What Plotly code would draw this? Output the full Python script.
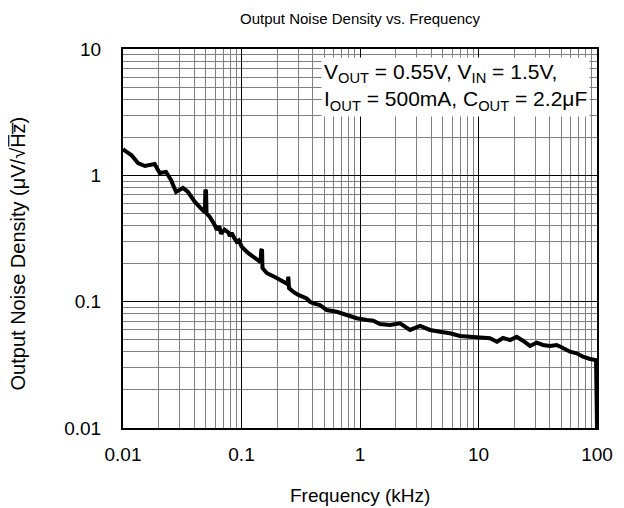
import plotly.graph_objects as go

# Frequency (kHz) and output noise density (uV/rtHz)
freq_khz = [0.01, 0.0102, 0.01175, 0.01339, 0.01533, 0.01851, 0.0204, 0.02307, 0.02541,
            0.02801, 0.03208, 0.03536, 0.04027, 0.0455, 0.0490, 0.0496, 0.0502, 0.0507,
            0.0539, 0.0594, 0.0620, 0.0650, 0.0671, 0.0720, 0.0769, 0.0800, 0.0826, 0.0870,
            0.0911, 0.0950, 0.1004, 0.1135, 0.1387,
            0.1446, 0.1469, 0.149, 0.1504, 0.1632, 0.1982, 0.2328, 0.2444, 0.2483,
            0.2517, 0.2721, 0.3015, 0.355, 0.378, 0.404, 0.445, 0.459, 0.524, 0.635,
            0.772, 0.938, 1.139, 1.295, 1.475, 1.792, 2.176, 2.642, 3.21, 3.90, 4.73,
            5.74, 6.98, 8.47, 10.3, 12.5, 14.3, 16.1, 18.5, 21.0, 23.7, 27.2, 31.0,
            35.0, 40.1, 45.7, 51.6, 59.2, 67.4, 76.2, 87.3, 98.2, 100.0]
noise = [1.616, 1.586, 1.449, 1.252, 1.186, 1.230, 1.043, 1.063, 0.918,
         0.738, 0.794, 0.738, 0.618, 0.551, 0.51, 0.77, 0.75, 0.50,
         0.470, 0.404, 0.370, 0.395, 0.345, 0.372, 0.356, 0.330, 0.350, 0.318,
         0.298, 0.305, 0.272, 0.243, 0.214,
         0.206, 0.256, 0.26, 0.1847, 0.1686, 0.1539, 0.1406, 0.138, 0.1576,
         0.1283, 0.120, 0.113, 0.106, 0.0999, 0.097, 0.094, 0.094, 0.0859, 0.0832,
         0.0784, 0.0739, 0.0716, 0.0706, 0.0665, 0.0653, 0.0674, 0.0597, 0.0642, 0.0597, 0.0578,
         0.0562, 0.0535, 0.0528, 0.0528, 0.0513, 0.0482, 0.0516, 0.0497, 0.0528, 0.0491, 0.0446, 0.0473,
         0.0454, 0.0446, 0.0454, 0.0430, 0.0402, 0.0390, 0.0367, 0.0352, 0.0345, 0.01]

x_tickvals = [0.01, 0.1, 1, 10, 100]
x_ticktext = ["0.01", "0.1", "1", "10", "100"]
y_tickvals = [0.01, 0.1, 1, 10]
y_ticktext = ["0.01", "0.1", "1", "10"]

font_family = "Liberation Sans, Arial, sans-serif"

fig = go.Figure()
fig.add_trace(go.Scatter(x=freq_khz, y=noise, mode="lines",
                         line=dict(color="black", width=4), showlegend=False))

axis_common = dict(
    type="log", showline=True, linecolor="black", linewidth=2, mirror=True,
    showgrid=True, gridcolor="black", gridwidth=1, ticks="", zeroline=False,
    tickfont=dict(size=19, color="black", family=font_family),
    minor=dict(dtick="D1", showgrid=True, gridcolor="#808080", gridwidth=1, ticks=""),
)

fig.update_xaxes(**axis_common, range=[-2, 2], tickvals=x_tickvals, ticktext=x_ticktext,
                 ticklabelstandoff=8)
fig.update_yaxes(**axis_common, range=[-2, 1], tickvals=y_tickvals, ticktext=y_ticktext,
                 ticklabelstandoff=16)

# axis titles and chart title
fig.add_annotation(xref="paper", yref="paper", x=0.5, y=-0.177, xanchor="center", yanchor="middle",
                   text="Frequency (kHz)", showarrow=False,
                   font=dict(size=19, color="black", family=font_family))
fig.add_annotation(xref="paper", yref="paper", x=-0.222, y=0.46, xanchor="center", yanchor="middle",
                   text="Output Noise Density (μV/√H̅z̅)", textangle=-90, showarrow=False,
                   font=dict(size=20, color="black", family=font_family))
fig.add_annotation(xref="paper", yref="paper", x=0.5, y=1.108, xanchor="center", yanchor="top",
                   text="Output Noise Density vs. Frequency", showarrow=False,
                   font=dict(size=15, color="black", family=font_family))

fig.add_annotation(
    xref="paper", yref="paper", x=0.985, y=0.98, xanchor="right", yanchor="top",
    text="V<sub>OUT</sub> = 0.55V, V<sub>IN</sub> = 1.5V,<br>I<sub>OUT</sub> = 500mA, C<sub>OUT</sub> = 2.2μF",
    showarrow=False, align="left", bgcolor="white", borderpad=2,
    font=dict(size=21, color="black", family=font_family),
)

fig.update_layout(
    width=624, height=508,
    margin=dict(l=115, r=35, t=41, b=88),
    paper_bgcolor="white", plot_bgcolor="white",
    font=dict(family=font_family, color="black"),
)

fig.write_html("out.html")
